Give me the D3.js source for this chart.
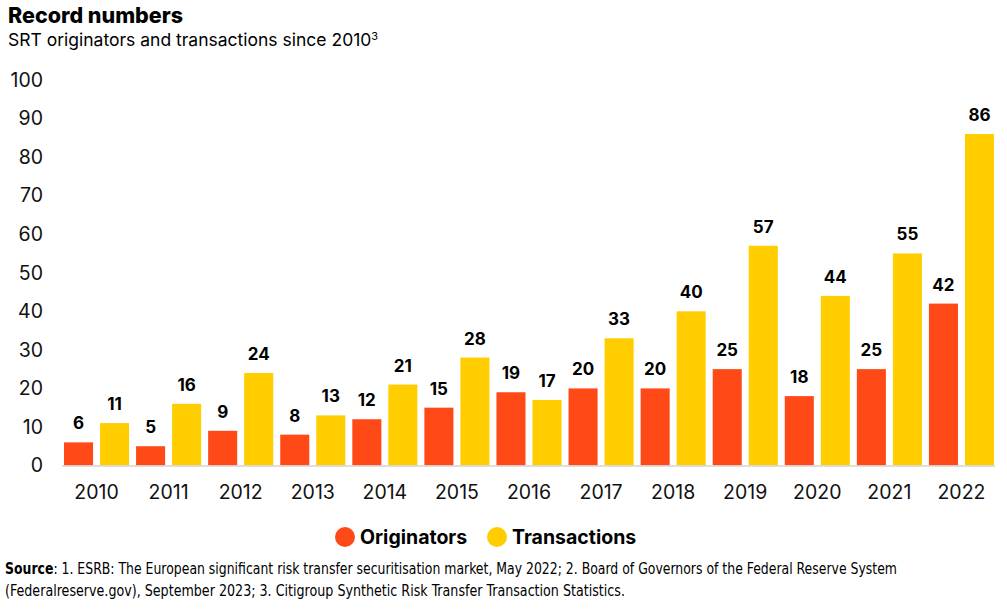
<!DOCTYPE html>
<html><head><meta charset="utf-8">
<script src="https://cdn.jsdelivr.net/npm/d3@7"></script>
<style>body{margin:0;background:#fff}svg{display:block}</style>
</head><body>
<svg id="c" width="1007" height="610"></svg>
<script>
const years = ["2010","2011","2012","2013","2014","2015","2016","2017","2018","2019","2020","2021","2022"];
const originators = [6,5,9,8,12,15,19,20,20,25,18,25,42];
const transactions = [11,16,24,13,21,28,17,33,40,57,44,55,86];
const seriesNames = ["Originators","Transactions"];
const seriesColors = ["#FF4A17","#FFCD00"];
const yTicks = [0,10,20,30,40,50,60,70,80,90,100];

const svg = d3.select("#c");
const F = "Inter, 'Noto Sans', sans-serif";

const x = d3.scaleBand().domain(years).range([60.5, 997.5]).padding(0);
const xi = d3.scaleBand().domain(seriesNames).range([0, x.bandwidth()]).paddingInner(0.194).paddingOuter(0.097);
const y = d3.scaleLinear().domain([0,100]).range([465.5, 80]);
const color = d3.scaleOrdinal().domain(seriesNames).range(seriesColors);

// title
svg.append("text").attr("x",8).attr("y",23).attr("font-family",F).attr("font-weight",800)
  .attr("font-size",21.5).attr("fill","#000").text("Record numbers");
const sub = svg.append("text").attr("x",8).attr("y",46).attr("font-family",F)
  .attr("font-size",17.5).attr("fill","#000");
sub.append("tspan").text("SRT originators and transactions since 2010");
sub.append("tspan").attr("font-size",11).attr("dy",-6).text("3");

// y axis labels
const yAxis = d3.axisLeft(y).tickValues(yTicks).tickSize(0).tickPadding(0);
const gy = svg.append("g").attr("transform","translate(43,0)").call(yAxis);
gy.select(".domain").remove();
gy.selectAll("text").attr("font-family",F).attr("font-size",19.5).attr("fill","#111");

// bars
const data = years.map((yr,i)=>({year:yr, vals:[{s:"Originators",v:originators[i]},{s:"Transactions",v:transactions[i]}]}));
const g = svg.append("g");
const grp = g.selectAll("g.yr").data(data).join("g").attr("transform",d=>`translate(${x(d.year)},0)`);
grp.selectAll("rect").data(d=>d.vals).join("rect")
  .attr("x",d=>xi(d.s)).attr("width",xi.bandwidth())
  .attr("y",d=>y(d.v)).attr("height",d=>y(0)-y(d.v))
  .attr("fill",d=>color(d.s));
grp.selectAll("text").data(d=>d.vals).join("text")
  .attr("x",d=>xi(d.s)+xi.bandwidth()/2).attr("y",d=>y(d.v)-13)
  .attr("text-anchor","middle").attr("font-family",F).attr("font-weight",700)
  .attr("font-size",17).attr("fill","#000").text(d=>d.v);

// x axis
const xAxis = d3.axisBottom(x).tickSize(0).tickPadding(20);
const gx = svg.append("g").attr("transform",`translate(0,${y(0)})`).call(xAxis);
gx.select(".domain").remove();
gx.selectAll("text").attr("font-family",F).attr("font-size",19.5).attr("fill","#111");
svg.append("line").attr("x1",62).attr("x2",995).attr("y1",y(0)+0.5).attr("y2",y(0)+0.5)
  .attr("stroke","#d4d4d4").attr("stroke-width",1.5);

// legend
const leg = svg.append("g");
const legX = [345, 497];
seriesNames.forEach((s,i)=>{
  leg.append("circle").attr("cx",legX[i]).attr("cy",537).attr("r",10).attr("fill",color(s));
  leg.append("text").attr("x",legX[i]+15).attr("y",544).attr("font-family",F).attr("font-weight",700)
    .attr("font-size",19.5).attr("fill","#000").text(s);
});

// source
const SF = "'Liberation Sans Narrow', 'DejaVu Sans Condensed', sans-serif";
const s1 = svg.append("text").attr("x",5).attr("y",574).attr("font-family",SF).attr("font-size",15).attr("fill","#000")
  .attr("textLength",892).attr("lengthAdjust","spacingAndGlyphs");
s1.append("tspan").attr("font-weight",700).text("Source");
s1.append("tspan").text(": 1. ESRB: The European significant risk transfer securitisation market, May 2022; 2. Board of Governors of the Federal Reserve System");
svg.append("text").attr("x",5).attr("y",596).attr("font-family",SF).attr("font-size",15).attr("fill","#000")
  .attr("textLength",620).attr("lengthAdjust","spacingAndGlyphs")
  .text("(Federalreserve.gov), September 2023; 3. Citigroup Synthetic Risk Transfer Transaction Statistics.");
</script>
</body></html>
